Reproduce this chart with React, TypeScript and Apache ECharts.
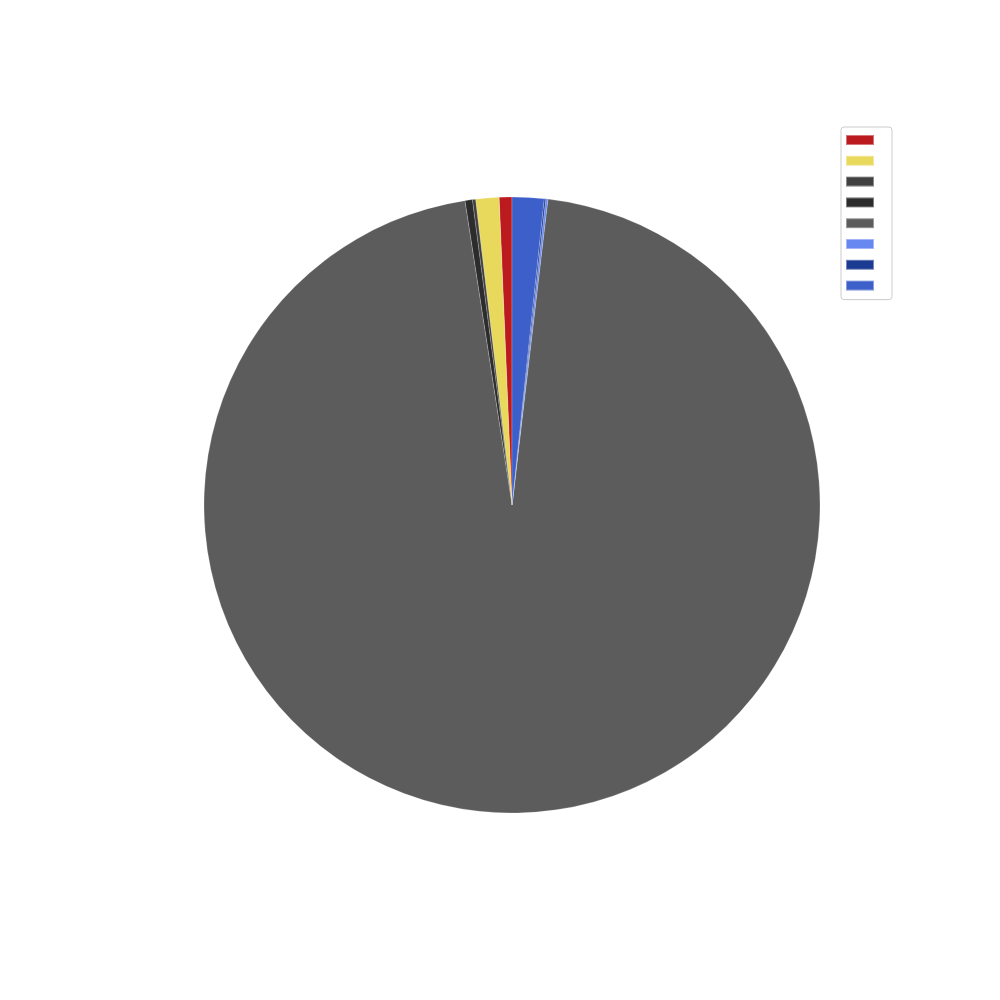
import React, { useEffect, useRef } from "react";
import * as echarts from "echarts";

const names = ["A", "B", "C", "D", "E", "F", "G", "H"];
const values = [2.4, 4.4, 0.6, 1.4, 344.5, 0.4, 0.3, 6.0];
const colors = ["#BB1A1F", "#E8D95C", "#404040", "#2C2C2C", "#5C5C5C", "#6688F0", "#1B3A91", "#3C5FCA"];

export default function App() {
  const ref = useRef<HTMLDivElement>(null);
  useEffect(() => {
    document.body.style.margin = "0";
    const chart = echarts.init(ref.current!, undefined, { renderer: "svg" });
    chart.setOption({
      animation: false,
      backgroundColor: "#fff",
      legend: {
        orient: "vertical",
        left: 841,
        top: 127,
        data: names,
        formatter: () => "",
        itemWidth: 28,
        itemHeight: 10,
        itemGap: 8.8,
        icon: "rect",
        borderColor: "#ccc",
        borderWidth: 1,
        borderRadius: 3,
        padding: [7, 17, 8, 4],
        textStyle: { fontSize: 12 },
      },
      series: [
        {
          type: "pie",
          center: [512, 505],
          radius: 308,
          startAngle: 90,
          clockwise: false,
          label: { show: false },
          labelLine: { show: false },
          itemStyle: { borderColor: "rgba(255,255,255,0.4)", borderWidth: 0.5 },
          data: names.map((n, i) => ({ name: n, value: values[i], itemStyle: { color: colors[i] } })),
        },
      ],
    });
    return () => chart.dispose();
  }, []);
  return <div ref={ref} style={{ width: 1000, height: 1000 }} />;
}
